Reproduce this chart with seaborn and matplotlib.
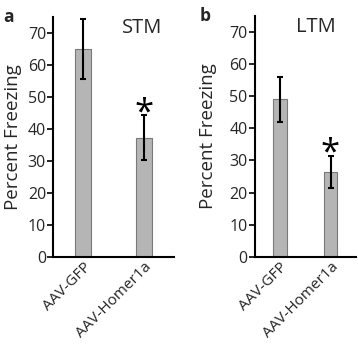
import matplotlib
matplotlib.use('Agg')
import matplotlib.pyplot as plt
import seaborn as sb
import pandas as pd

groups = ['AAV-GFP', 'AAV-Homer1a']
stm_mean = [65.0, 37.3]
stm_err = [9.4, 7.0]
ltm_mean = [49.0, 26.5]
ltm_err = [7.0, 5.0]
panel_titles = ['STM', 'LTM']
panel_letters = ['a', 'b']

sb.set_style('ticks')
plt.rcParams['font.family'] = ['Open Sans', 'DejaVu Sans']

fig = plt.figure(figsize=(3.58, 3.48), dpi=100)
ax_a = fig.add_axes([0.148, 0.261, 0.338, 0.691])
ax_b = fig.add_axes([0.711, 0.262, 0.283, 0.692])

def draw_panel(ax, means, errs, title, letter, title_x, letter_x, ylab_x):
    df = pd.DataFrame({'group': groups, 'value': means})
    sb.barplot(ax=ax, data=df, x='group', y='value', color='#b5b5b5',
               edgecolor='#7a7a7a', linewidth=0.8, width=0.27, saturation=1)
    pos = list(range(len(groups)))
    ax.errorbar(pos, means, yerr=errs, fmt='none', ecolor='black',
                elinewidth=1.5, capsize=2.5, capthick=1.5)
    # significance star over second bar (glyph sits high, so baseline is below bar top)
    ax.text(pos[1], means[1] + errs[1] - 2.2, '*', ha='center', va='baseline',
            fontsize=25, color='black')
    ax.set_xlim(-0.5, 1.5)
    ax.set_ylim(0, 75)
    ax.set_yticks(range(0, 71, 10))
    ax.set_xlabel('')
    ax.set_ylabel('Percent Freezing', fontsize=13.5)
    ax.yaxis.set_label_coords(ylab_x, 0.5)
    ax.tick_params(axis='y', length=4, width=1.2, labelsize=11.5, pad=1, color='black')
    ax.tick_params(axis='x', length=0, labelsize=11, pad=2)
    for lbl in ax.get_xticklabels():
        lbl.set_rotation(45)
        lbl.set_ha('right')
        lbl.set_rotation_mode('anchor')
    for s in ['top', 'right']:
        ax.spines[s].set_visible(False)
    for s in ['left', 'bottom']:
        ax.spines[s].set_linewidth(1.5)
        ax.spines[s].set_color('black')
    ax.text(title_x, 0.955, title, transform=ax.transAxes, ha='center',
            va='center', fontsize=14.5)
    ax.text(letter_x, 1.0, letter, transform=ax.transAxes, ha='left',
            va='center', fontsize=12.5, fontweight='bold')

draw_panel(ax_a, stm_mean, stm_err, panel_titles[0], panel_letters[0], 0.74, -0.41, -0.26)
draw_panel(ax_b, ltm_mean, ltm_err, panel_titles[1], panel_letters[1], 0.61, -0.54, -0.37)

fig.savefig('out.png', dpi=100)
